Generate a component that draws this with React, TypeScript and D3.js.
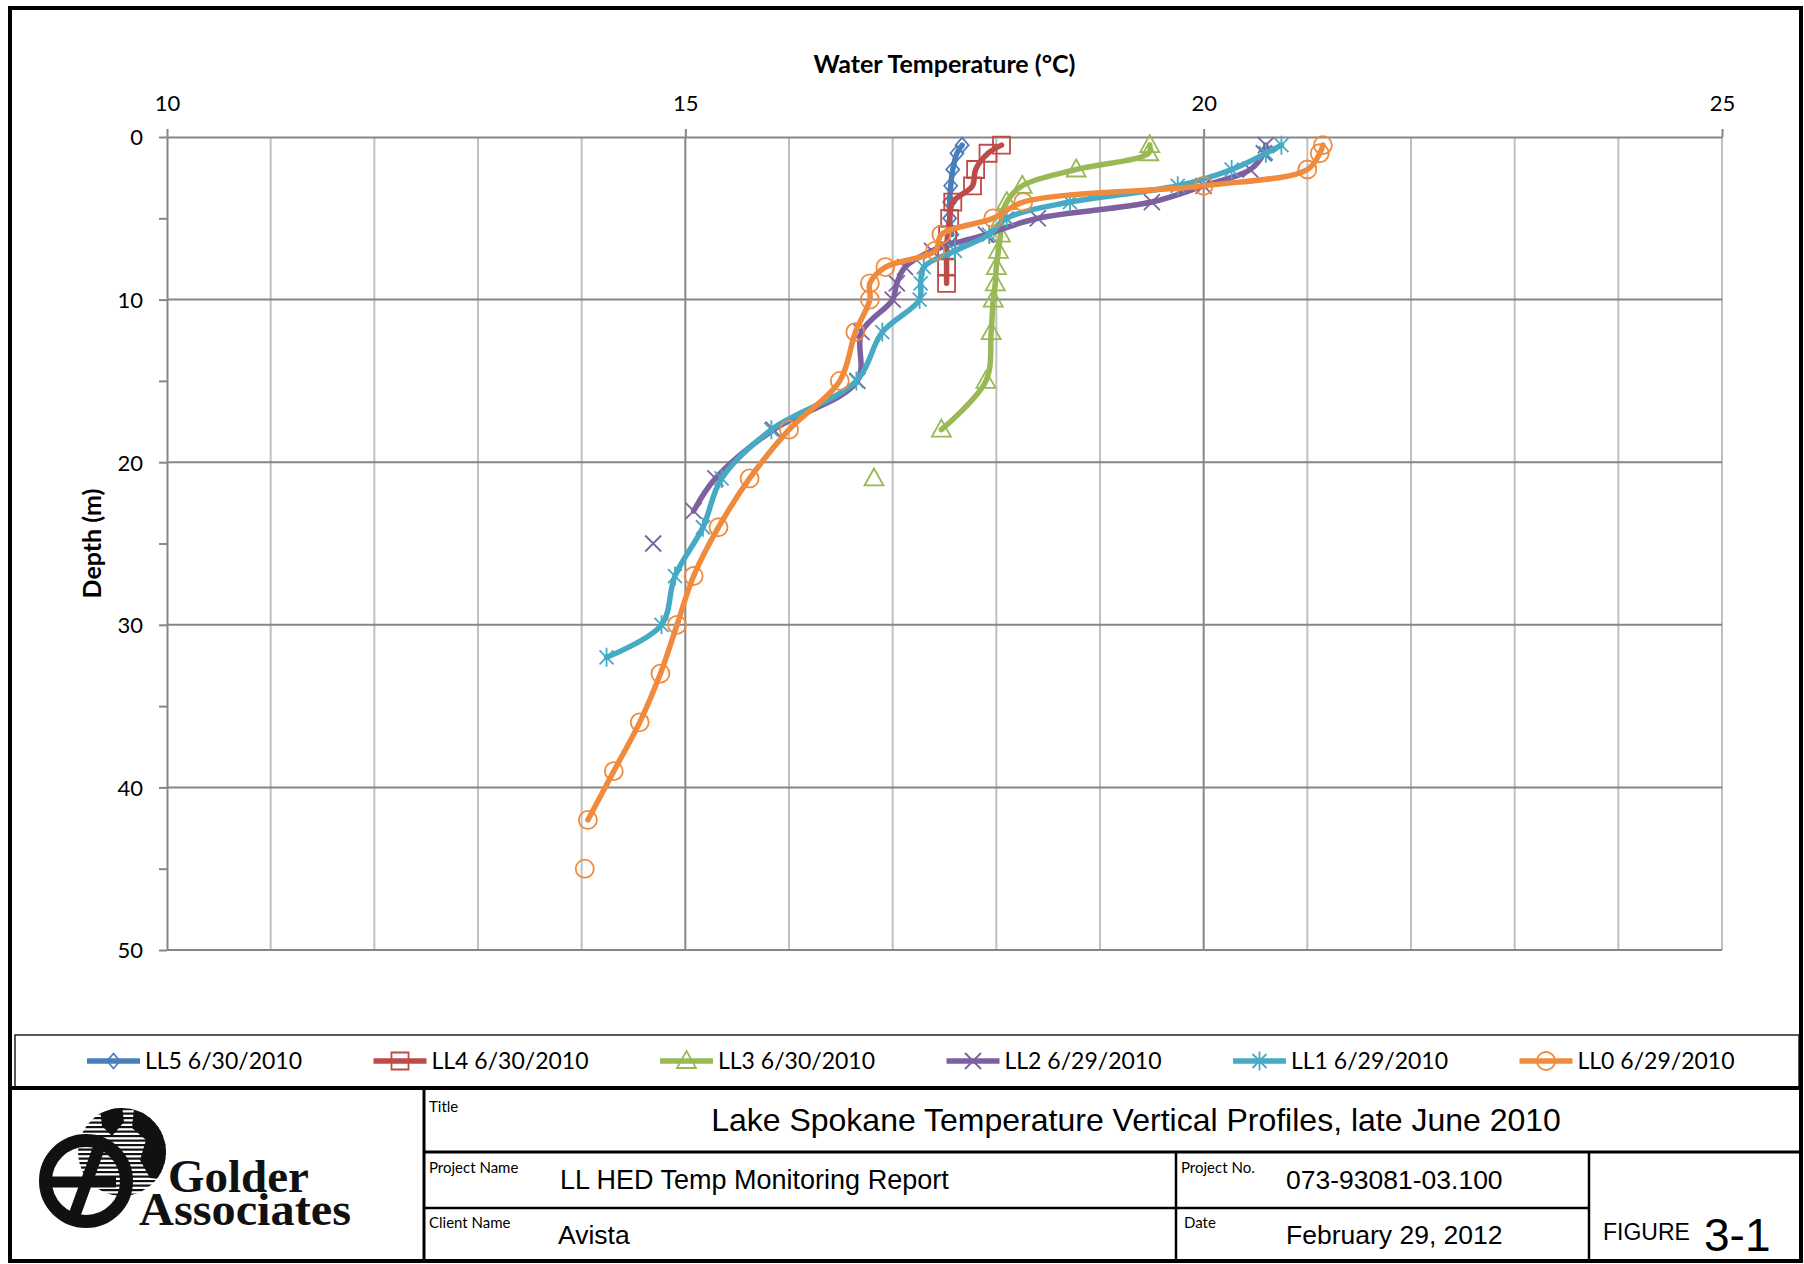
import { useRef, useEffect } from "react";
import * as d3 from "d3";

// depth (m) and temperature (°C) per station; null = missing reading (line gap)
const ll5Depth = [0.5, 1, 2, 3, 4, 5, 6];
const ll5Temp = [17.67, 17.62, 17.58, 17.56, 17.55, 17.55, 17.57];

const ll4Depth = [0.5, 1, 2, 3, 4, 5, 6, 7, 8, 9];
const ll4Temp = [18.05, 17.92, 17.8, 17.77, 17.58, 17.55, 17.53, 17.52, 17.52, 17.52];

const ll3Depth = [0.5, 1, 2, 3, 4, 5, 6, 7, 8, 9, 10, 12, 15, 18, null, 21];
const ll3Temp = [19.48, 19.47, 18.77, 18.25, 18.1, 18.05, 18.04, 18.02, 18.0, 17.99, 17.97, 17.95, 17.9, 17.47, null, 16.82];

const ll2Depth = [0.5, 1, 2, 3, 4, 5, 6, 7, 8, 9, 10, 12, 15, 18, 21, 23, null, 25];
const ll2Temp = [20.6, 20.58, 20.45, 20.0, 19.5, 18.4, 17.9, 17.38, 17.12, 17.04, 17.0, 16.7, 16.66, 15.85, 15.29, 15.08, null, 14.69];

const ll1Depth = [0.5, 1, 2, 3, 4, 5, 6, 7, 8, 9, 10, 12, 15, 18, 21, 24, 27, 30, 32];
const ll1Temp = [20.75, 20.6, 20.27, 19.75, 18.71, 18.1, 17.93, 17.6, 17.3, 17.27, 17.26, 16.9, 16.65, 15.83, 15.35, 15.17, 14.9, 14.77, 14.24];

const ll0Depth = [0.5, 1, 2, 3, 4, 5, 6, 7, 8, 9, 10, 12, 15, 18, 21, 24, 27, 30, 33, 36, 39, 42, null, 45];
const ll0Temp = [21.15, 21.12, 21.0, 20.0, 18.26, 17.97, 17.47, 17.41, 16.93, 16.78, 16.78, 16.64, 16.49, 16.0, 15.62, 15.32, 15.08, 14.92, 14.76, 14.56, 14.31, 14.06, null, 14.03];

const seriesNames = ["LL5 6/30/2010", "LL4 6/30/2010", "LL3 6/30/2010", "LL2 6/29/2010", "LL1 6/29/2010", "LL0 6/29/2010"];
const seriesColors = ["#4a7ebb", "#be4b48", "#98b954", "#7d60a0", "#46aac5", "#f08a3c"];
const seriesMarkers = ["diamond", "square", "triangle", "x", "star", "circle"];
const depths = [ll5Depth, ll4Depth, ll3Depth, ll2Depth, ll1Depth, ll0Depth];
const temps = [ll5Temp, ll4Temp, ll3Temp, ll2Temp, ll1Temp, ll0Temp];

const tempTicks = [10, 15, 20, 25];
const depthTicks = [0, 5, 10, 15, 20, 25, 30, 35, 40, 45, 50];

const xTitle = "Water Temperature (°C)";
const yTitle = "Depth (m)";

const markerPath = (kind) => {
  switch (kind) {
    case "diamond":
      return "M0,-7.5L6.5,0L0,7.5L-6.5,0Z";
    case "square":
      return "M-8.5,-8.5H8.5V8.5H-8.5Z";
    case "triangle":
      return "M0,-10L9.5,7L-9.5,7Z";
    case "x":
      return "M-8,-8L8,8M8,-8L-8,8";
    case "star":
      return "M-7,-7L7,7M7,-7L-7,7M0,-9.5V9.5";
    default:
      return "M9,0A9,9 0 1 1 -9,0A9,9 0 1 1 9,0Z";
  }
};

const App = () => {
  const chartRef = useRef(null);

  useEffect(() => {
    const g = d3.select(chartRef.current);
    g.selectAll("*").remove();

    const x = d3.scaleLinear().domain([10, 25]).range([167, 1722]);
    const y = d3.scaleLinear().domain([0, 50]).range([137, 950]);

    // gridlines
    g.append("g")
      .selectAll("line")
      .data(d3.range(11, 26))
      .join("line")
      .attr("x1", (d) => x(d))
      .attr("x2", (d) => x(d))
      .attr("y1", y(0))
      .attr("y2", y(50))
      .attr("stroke", (d) => (d % 5 === 0 && d !== 25 ? "#868686" : "#c0c0c0"))
      .attr("stroke-width", 2);

    g.append("g")
      .selectAll("line")
      .data(d3.range(10, 51, 10))
      .join("line")
      .attr("x1", x(10))
      .attr("x2", x(25))
      .attr("y1", (d) => y(d))
      .attr("y2", (d) => y(d))
      .attr("stroke", "#868686")
      .attr("stroke-width", 2);

    // axes
    const xAxis = g
      .append("g")
      .attr("transform", `translate(0,${y(0)})`)
      .call(d3.axisTop(x).tickValues(tempTicks).tickSize(8).tickSizeOuter(0).tickPadding(18));
    const yAxis = g
      .append("g")
      .attr("transform", `translate(${x(10)},0)`)
      .call(
        d3
          .axisLeft(y)
          .tickValues(depthTicks)
          .tickSize(8)
          .tickSizeOuter(0)
          .tickPadding(16)
          .tickFormat((d) => (d % 10 === 0 ? String(d) : ""))
      );
    [xAxis, yAxis].forEach((a) => {
      a.select(".domain").attr("stroke", "#868686").attr("stroke-width", 2);
      a.selectAll(".tick line").attr("stroke", "#868686").attr("stroke-width", 2);
      a.selectAll(".tick text")
        .attr("font-family", "Lato, 'Open Sans', sans-serif")
        .attr("font-size", 22)
        .attr("fill", "#000");
    });
    yAxis.selectAll(".tick text").attr("dy", "0.36em");

    g.append("text")
      .attr("x", (x(10) + x(25)) / 2)
      .attr("y", 73)
      .attr("text-anchor", "middle")
      .attr("font-family", "Lato, sans-serif")
      .attr("font-weight", "bold")
      .attr("font-size", 25)
      .text(xTitle);

    g.append("text")
      .attr("transform", `translate(101,${(y(0) + y(50)) / 2}) rotate(-90)`)
      .attr("text-anchor", "middle")
      .attr("font-family", "Lato, sans-serif")
      .attr("font-weight", "bold")
      .attr("font-size", 25)
      .text(yTitle);

    // series: split at missing readings, draw only runs of 2+ points
    const line = d3
      .line()
      .x((p) => x(p.t))
      .y((p) => y(p.d))
      .curve(d3.curveCatmullRom.alpha(0.5));

    depths.forEach((ds, i) => {
      const pts = ds.map((d, j) => ({ d, t: temps[i][j] }));
      const runs = [[]];
      pts.forEach((p) => {
        if (p.t == null) runs.push([]);
        else runs[runs.length - 1].push(p);
      });
      const sg = g.append("g");
      sg.selectAll("path.ln")
        .data(runs.filter((r) => r.length > 1))
        .join("path")
        .attr("class", "ln")
        .attr("d", (r) => line(r))
        .attr("fill", "none")
        .attr("stroke", seriesColors[i])
        .attr("stroke-width", 5.5)
        .attr("stroke-linejoin", "round")
        .attr("stroke-linecap", "round");
      sg.selectAll("path.mk")
        .data(pts.filter((p) => p.t != null))
        .join("path")
        .attr("class", "mk")
        .attr("transform", (p) => `translate(${x(p.t)},${y(p.d)})`)
        .attr("d", markerPath(seriesMarkers[i]))
        .attr("fill", "none")
        .attr("stroke", seriesColors[i])
        .attr("stroke-width", 1.8);
    });

    // legend
    const lg = g.append("g");
    seriesNames.forEach((name, i) => {
      const lx = 87 + i * 286.5;
      const ly = 1061;
      lg.append("line")
        .attr("x1", lx)
        .attr("x2", lx + 53)
        .attr("y1", ly)
        .attr("y2", ly)
        .attr("stroke", seriesColors[i])
        .attr("stroke-width", 5.5);
      lg.append("path")
        .attr("transform", `translate(${lx + 26.5},${ly})`)
        .attr("d", markerPath(seriesMarkers[i]))
        .attr("fill", "none")
        .attr("stroke", seriesColors[i])
        .attr("stroke-width", 1.8);
      lg.append("text")
        .attr("x", lx + 58)
        .attr("y", ly + 8)
        .attr("font-family", "Lato, sans-serif")
        .attr("font-size", 23)
        .text(name);
    });
  }, []);

  const label = { fontFamily: "Lato, sans-serif", fontSize: 15 };
  const value = { fontFamily: "'Liberation Sans', Arial, sans-serif", fontSize: 26.5 };
  const serif = "'Liberation Serif', 'DejaVu Serif', serif";

  return (
    <svg
      width={1804}
      height={1264}
      style={{ position: "absolute", left: 0, top: 0, display: "block", background: "#fff" }}
    >
      <rect x={0} y={0} width={1804} height={1264} fill="#fff" />
      <g ref={chartRef} />

      {/* frame + legend box */}
      <rect x={15} y={1035} width={1784} height={52} fill="none" stroke="#222" strokeWidth={1.5} />
      <rect x={10} y={8} width={1791} height={1253} fill="none" stroke="#000" strokeWidth={4} />
      <line x1={10} x2={1801} y1={1088} y2={1088} stroke="#000" strokeWidth={4} />
      <line x1={424} x2={424} y1={1088} y2={1262} stroke="#000" strokeWidth={3} />
      <line x1={424} x2={1801} y1={1152} y2={1152} stroke="#000" strokeWidth={3} />
      <line x1={424} x2={1589} y1={1208} y2={1208} stroke="#000" strokeWidth={2.5} />
      <line x1={1176} x2={1176} y1={1152} y2={1262} stroke="#000" strokeWidth={2.5} />
      <line x1={1589} x2={1589} y1={1152} y2={1262} stroke="#000" strokeWidth={2.5} />

      {/* title block text */}
      <text x={429} y={1112} {...label}>Title</text>
      <text x={1136} y={1131} textAnchor="middle" {...value} fontSize={32}>
        Lake Spokane Temperature Vertical Profiles, late June 2010
      </text>
      <text x={429} y={1173} {...label}>Project Name</text>
      <text x={560} y={1189} {...value} fontSize={27}>LL HED Temp Monitoring Report</text>
      <text x={1181} y={1173} {...label}>Project No.</text>
      <text x={1286} y={1189} {...value}>073-93081-03.100</text>
      <text x={429} y={1228} {...label}>Client Name</text>
      <text x={558} y={1244} {...value}>Avista</text>
      <text x={1184} y={1228} {...label}>Date</text>
      <text x={1286} y={1244} {...value}>February 29, 2012</text>
      <text x={1603} y={1240} {...value} fontSize={23}>FIGURE</text>
      <text x={1704} y={1251} {...value} fontSize={46}>3-1</text>

      {/* logo */}
      <defs>
        <clipPath id="globeClip">
          <circle cx={122} cy={1152} r={44} />
        </clipPath>
      </defs>
      <g clipPath="url(#globeClip)">
        {d3.range(1108, 1200, 4.5).map((yy) => (
          <rect key={yy} x={70} y={yy} width={100} height={2.2} fill="#111" />
        ))}
        <path d="M134,1108 L168,1112 L168,1180 L150,1178 L140,1160 L146,1140 L132,1128 Z" fill="#111" />
        <path d="M100,1108 L122,1106 L124,1122 L112,1136 L102,1126 Z" fill="#111" />
      </g>
      <circle cx={86} cy={1181} r={40.5} fill="none" stroke="#111" strokeWidth={13} />
      <line x1={52} x2={116} y1={1182} y2={1182} stroke="#111" strokeWidth={11} />
      <line x1={101} x2={72} y1={1142} y2={1222} stroke="#111" strokeWidth={12} />
      <text x={168} y={1192} fontFamily={serif} fontWeight="bold" fontSize={47} fill="#111">
        Golder
      </text>
      <text x={139} y={1225} fontFamily={serif} fontWeight="bold" fontSize={47} fill="#111" textLength={212} lengthAdjust="spacingAndGlyphs">
        Associates
      </text>
    </svg>
  );
};

export default App;
